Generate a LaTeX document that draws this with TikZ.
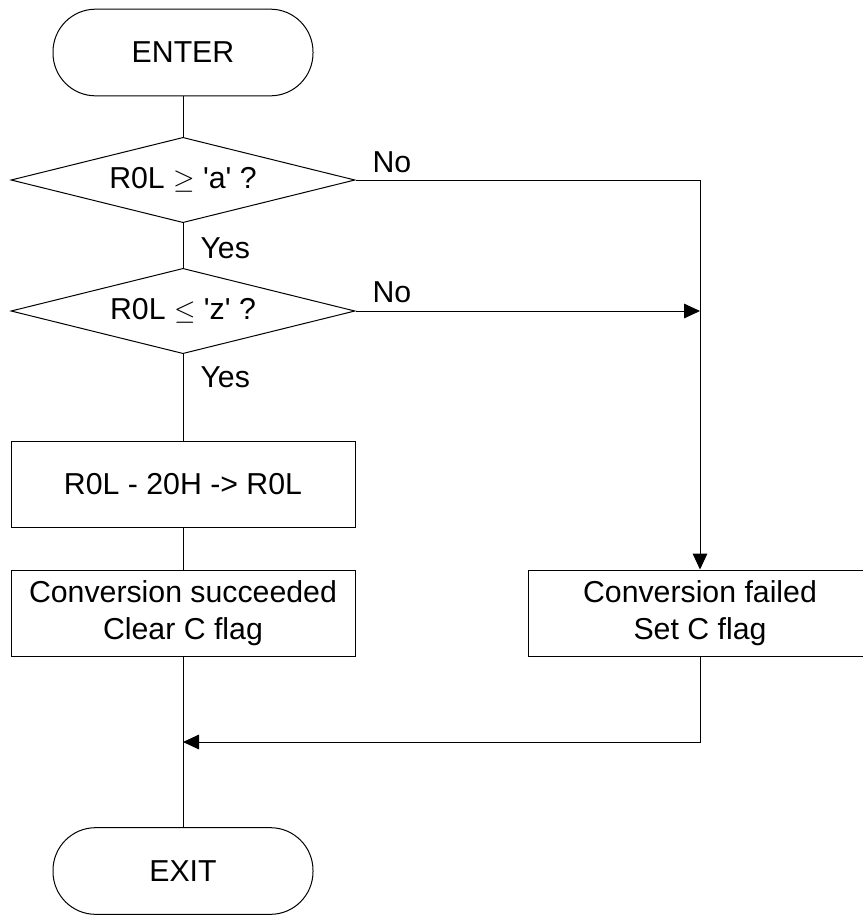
\documentclass[tikz,border=0pt]{standalone}
\usepackage{fontspec}
\setmainfont{Liberation Sans}
\usetikzlibrary{calc,shapes.geometric,arrows.meta}

\begin{document}
\begin{tikzpicture}[x=0.75pt,y=-0.75pt,line width=0.75pt,
  every node/.style={font=\fontsize{22.7}{28}\selectfont},
  term/.style={draw,rounded corners=32pt,minimum width=195pt,minimum height=65pt,inner sep=0pt},
  test/.style={draw,diamond,aspect=4,minimum width=258pt,minimum height=64pt,inner sep=0pt},
  proc/.style={draw,rectangle,minimum width=258pt,minimum height=64.5pt,inner sep=0pt,align=center},
  flow/.style={-{Triangle[length=12pt,width=11pt]}}]
  \useasboundingbox (0,0) rectangle (863,915);

  %% Boxes of the flow chart
  \node[term] (ENTER) at (183,52.5) {ENTER};
  \node[test] (TESTA) at (183,180) {R0L $\geq$ \textquotesingle a\textquotesingle\ ?};
  \node[test] (TESTB) at (183,311) {R0L $\leq$ \textquotesingle z\textquotesingle\ ?};
  \node[proc] (SUB)   at (183,484) {R0L - 20H -> R0L};
  \node[proc] (OK)    at (183,613) {Conversion succeeded\\Clear C flag};
  \node[proc] (FAIL)  at (700,613) {Conversion failed\\Set C flag};
  \node[term] (EXIT)  at (183,871) {EXIT};
  \coordinate (JOIN) at (183,742);

  %% Main line
  \draw (ENTER) -- (TESTA);
  \draw (TESTA) -- (TESTB);
  \draw (TESTB) -- (SUB);
  \draw (SUB) -- (OK);
  \draw (OK) -- (EXIT);

  %% Branches
  \draw[flow] (TESTA.east) -| (FAIL.north);
  \draw[flow] (TESTB.east) -- (TESTB.east -| FAIL);
  \draw[flow] (FAIL.south) |- (JOIN);

  %% Labels
  \node[anchor=base west,inner sep=0pt] (NOA)  at (372,172) {No};
  \node[anchor=base west,inner sep=0pt] (NOB)  at (372,302) {No};
  \node[anchor=base west,inner sep=0pt] (YESA) at (200,258) {Yes};
  \node[anchor=base west,inner sep=0pt] (YESB) at (200,387) {Yes};
\end{tikzpicture}
\end{document}
